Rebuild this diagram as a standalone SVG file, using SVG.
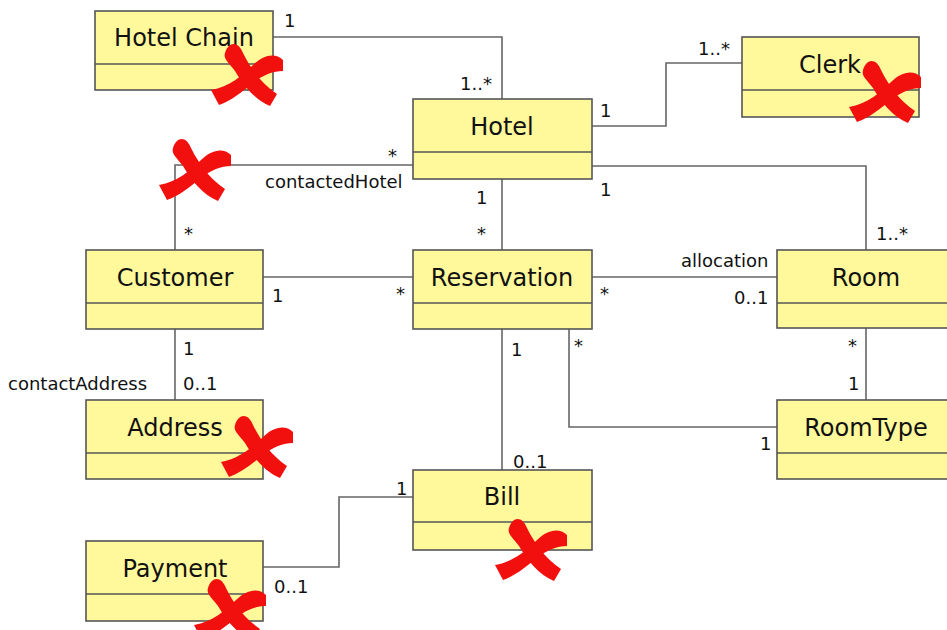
<svg xmlns="http://www.w3.org/2000/svg" xmlns:xlink="http://www.w3.org/1999/xlink" width="947" height="630" viewBox="0 0 947 630">
<style>
.box{fill:#FFF99C;stroke:#555;stroke-width:1.6}
.div{stroke:#555;stroke-width:1.6}
.title{font-family:"DejaVu Sans","Liberation Sans",sans-serif;font-size:24px;fill:#111;text-anchor:middle}
.lbl{font-family:"DejaVu Sans","Liberation Sans",sans-serif;font-size:18px;fill:#111}
.conn{fill:none;stroke:#666;stroke-width:1.6}
.xf{fill:#F2100F}
</style>
<defs>
<g id="cross">
<path class="xf" d="M-22,-22 C-18,-35 -8,-33 -4,-22 C4,-6 14,8 30,19 L23,31 C8,25 -4,10 -12,-4 C-18,-12 -24,-16 -22,-22 Z"/>
<path class="xf" d="M36,-15 C28,-23 16,-20 6,-10 C-4,0 -18,12 -36,15 L-28,30 C-16,26 -4,16 6,8 C16,0 26,-4 36,-4 Z"/>
</g>
</defs>
<rect width="947" height="630" fill="#fff"/>
<g id="connectors">
<polyline class="conn" points="273,37 502,37 502,99"/>
<polyline class="conn" points="592,126 666,126 666,63 742,63"/>
<polyline class="conn" points="592,166 866,166 866,250"/>
<polyline class="conn" points="413,165 175,165 175,250"/>
<line class="conn" x1="502" y1="179" x2="502" y2="250"/>
<line class="conn" x1="263" y1="277" x2="413" y2="277"/>
<line class="conn" x1="592" y1="277" x2="777" y2="277"/>
<line class="conn" x1="175" y1="329" x2="175" y2="400"/>
<line class="conn" x1="866" y1="328" x2="866" y2="400"/>
<polyline class="conn" points="569,329 569,427 777,427"/>
<line class="conn" x1="502" y1="329" x2="502" y2="470"/>
<polyline class="conn" points="413,497 339,497 339,567 263,567"/>
</g>
<g id="hotelchain"><rect class="box" x="95" y="11" width="178" height="79"/><line class="div" x1="95" y1="64" x2="273" y2="64"/><text class="title" x="184" y="46">Hotel Chain</text></g>
<g id="hotel"><rect class="box" x="413" y="99" width="179" height="80"/><line class="div" x1="413" y1="152" x2="592" y2="152"/><text class="title" x="502" y="135">Hotel</text></g>
<g id="clerk"><rect class="box" x="742" y="37" width="177" height="80"/><line class="div" x1="742" y1="90" x2="919" y2="90"/><text class="title" x="830" y="73">Clerk</text></g>
<g id="customer"><rect class="box" x="86" y="250" width="177" height="79"/><line class="div" x1="86" y1="303" x2="263" y2="303"/><text class="title" x="175" y="286">Customer</text></g>
<g id="reservation"><rect class="box" x="413" y="250" width="179" height="79"/><line class="div" x1="413" y1="303" x2="592" y2="303"/><text class="title" x="502" y="286">Reservation</text></g>
<g id="room"><rect class="box" x="777" y="250" width="180" height="78"/><line class="div" x1="777" y1="303" x2="957" y2="303"/><text class="title" x="866" y="286">Room</text></g>
<g id="address"><rect class="box" x="86" y="400" width="177" height="79"/><line class="div" x1="86" y1="453" x2="263" y2="453"/><text class="title" x="175" y="436">Address</text></g>
<g id="roomtype"><rect class="box" x="777" y="400" width="180" height="79"/><line class="div" x1="777" y1="453" x2="957" y2="453"/><text class="title" x="866" y="436">RoomType</text></g>
<g id="bill"><rect class="box" x="413" y="470" width="179" height="80"/><line class="div" x1="413" y1="522" x2="592" y2="522"/><text class="title" x="502" y="505">Bill</text></g>
<g id="payment"><rect class="box" x="86" y="541" width="177" height="80"/><line class="div" x1="86" y1="594" x2="263" y2="594"/><text class="title" x="175" y="577">Payment</text></g>
<g id="labels">
<text class="lbl" x="284" y="27">1</text>
<text class="lbl" x="460" y="90">1..*</text>
<text class="lbl" x="388" y="162">*</text>
<text class="lbl" x="265" y="188">contactedHotel</text>
<text class="lbl" x="476" y="204">1</text>
<text class="lbl" x="477" y="240">*</text>
<text class="lbl" x="600" y="117">1</text>
<text class="lbl" x="698" y="55">1..*</text>
<text class="lbl" x="600" y="196">1</text>
<text class="lbl" x="876" y="240">1..*</text>
<text class="lbl" x="184" y="240">*</text>
<text class="lbl" x="272" y="302">1</text>
<text class="lbl" x="396" y="300">*</text>
<text class="lbl" x="183" y="355">1</text>
<text class="lbl" x="183" y="390">0..1</text>
<text class="lbl" x="8" y="390">contactAddress</text>
<text class="lbl" x="681" y="267">allocation</text>
<text class="lbl" x="734" y="304">0..1</text>
<text class="lbl" x="600" y="300">*</text>
<text class="lbl" x="574" y="352">*</text>
<text class="lbl" x="511" y="356">1</text>
<text class="lbl" x="848" y="352">*</text>
<text class="lbl" x="848" y="390">1</text>
<text class="lbl" x="760" y="450">1</text>
<text class="lbl" x="513" y="468">0..1</text>
<text class="lbl" x="396" y="495">1</text>
<text class="lbl" x="274" y="593">0..1</text>
</g>
<g id="crosses">
<use xlink:href="#cross" x="247" y="75"/>
<use xlink:href="#cross" x="195" y="170"/>
<use xlink:href="#cross" x="885" y="92"/>
<use xlink:href="#cross" x="257" y="447"/>
<use xlink:href="#cross" x="531" y="550"/>
<use xlink:href="#cross" x="230" y="610"/>
</g>
</svg>
